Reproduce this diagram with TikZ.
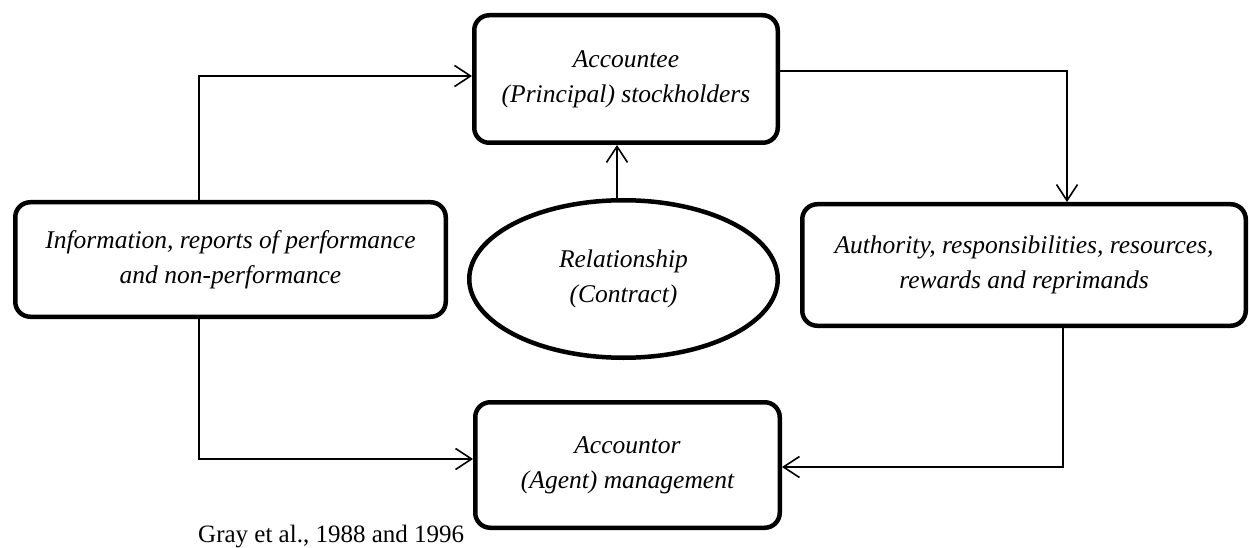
\documentclass[tikz,border=0pt]{standalone}
\usepackage{fontspec}
\setmainfont{Liberation Serif}
\usetikzlibrary{arrows.meta,shapes.geometric}
\begin{document}
\begin{tikzpicture}[x=1pt,y=-1pt,
  boxnode/.style={draw,line width=4.5pt,rounded corners=15pt,align=center,inner sep=0pt,
    font=\fontsize{25.5}{35}\selectfont\itshape},
  ellnode/.style={draw,ellipse,line width=4.5pt,align=center,inner sep=0pt,
    font=\fontsize{25.5}{35}\selectfont\itshape},
  conn/.style={line width=1.6pt,-{Straight Barb[length=16pt,width=21pt,line width=1.6pt]}},
  srcnode/.style={inner sep=0pt,anchor=base west,font=\fontsize{25}{28}\selectfont}
]
\useasboundingbox (0,0) rectangle (1250,548);

\node[boxnode,minimum width=303.5pt,minimum height=127.5pt] (T) at (626,79)
  {Accountee\\(Principal) stockholders};
\node[boxnode,minimum width=430.5pt,minimum height=114.5pt] (L) at (230.5,259.5)
  {Information, reports of performance\\and non-performance};
\node[boxnode,minimum width=443.5pt,minimum height=121.5pt] (R) at (1024,265)
  {Authority, responsibilities, resources,\\rewards and reprimands};
\node[boxnode,minimum width=304.5pt,minimum height=125.5pt] (A) at (627.5,465)
  {Accountor\\(Agent) management};
\node[ellnode,minimum width=308.5pt,minimum height=157.5pt] (E) at (623.5,279)
  {Relationship\\(Contract)};

\node[srcnode] (S) at (198,542) {Gray et al., 1988 and 1996};

\coordinate (c1) at (199,76);
\coordinate (c2) at (1067,71);
\coordinate (c3) at (617,0);
\coordinate (c4) at (199,459);
\coordinate (c5) at (1063,467);

\draw[conn] (L.north -| c1) |- (T.west |- c1);
\draw[conn] (T.east |- c2) -| (R.north -| c2);
\draw[conn] (E.north -| c3) -- (T.south -| c3);
\draw[conn] (L.south -| c4) |- (A.west |- c4);
\draw[conn] (R.south -| c5) |- (A.east |- c5);
\end{tikzpicture}
\end{document}
